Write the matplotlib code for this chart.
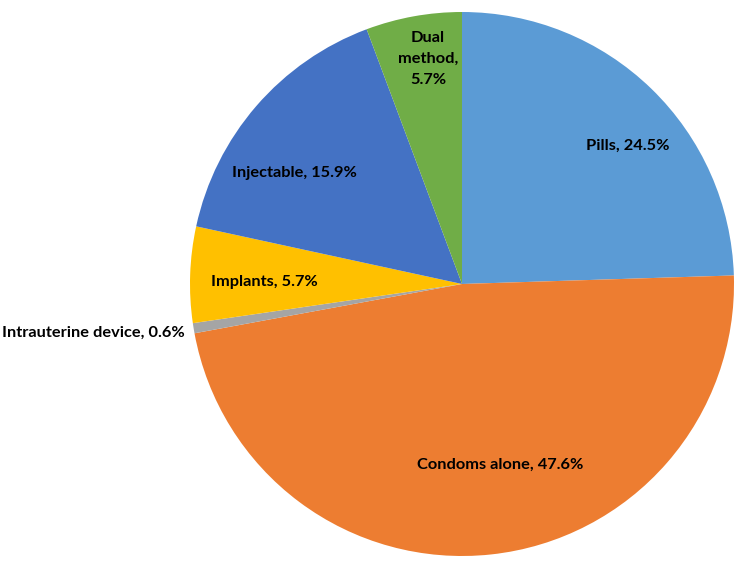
import matplotlib
matplotlib.use("Agg")
import matplotlib.pyplot as plt

categories = ["Pills", "Condoms alone", "Intrauterine device", "Implants", "Injectable", "Dual method"]
values = [24.5, 47.6, 0.6, 5.7, 15.9, 5.7]
colors = ["#5B9BD5", "#ED7D31", "#A5A5A5", "#FFC000", "#4472C4", "#70AD47"]

W, H = 751, 571
cx, cy, R = 462, 284, 272

fig = plt.figure(figsize=(W / 100, H / 100), dpi=100)
ax = fig.add_axes([(cx - R) / W, (H - cy - R) / H, 2 * R / W, 2 * R / H])
ax.pie(values, colors=colors, startangle=90, counterclock=False, radius=1,
       wedgeprops=dict(linewidth=0))
ax.set_xlim(-1, 1)
ax.set_ylim(-1, 1)
ax.set_aspect("equal")
ax.axis("off")

# label anchor positions (pixels) and alignment
label_px = [(628, 146, "center"), (500, 465, "center"), (2, 333, "left"),
            (264, 282, "center"), (294, 173, "center"), (428, 59, "center")]
texts = ["Pills, 24.5%", "Condoms alone, 47.6%", "Intrauterine device, 0.6%",
         "Implants, 5.7%", "Injectable, 15.9%", "Dual\nmethod,\n5.7%"]
for (px, py, ha), t in zip(label_px, texts):
    fig.text(px / W, 1 - py / H, t, ha=ha, va="center", fontsize=11.8,
             fontweight="bold", family="Lato", linespacing=1.6)

fig.savefig("out.png", dpi=100)
